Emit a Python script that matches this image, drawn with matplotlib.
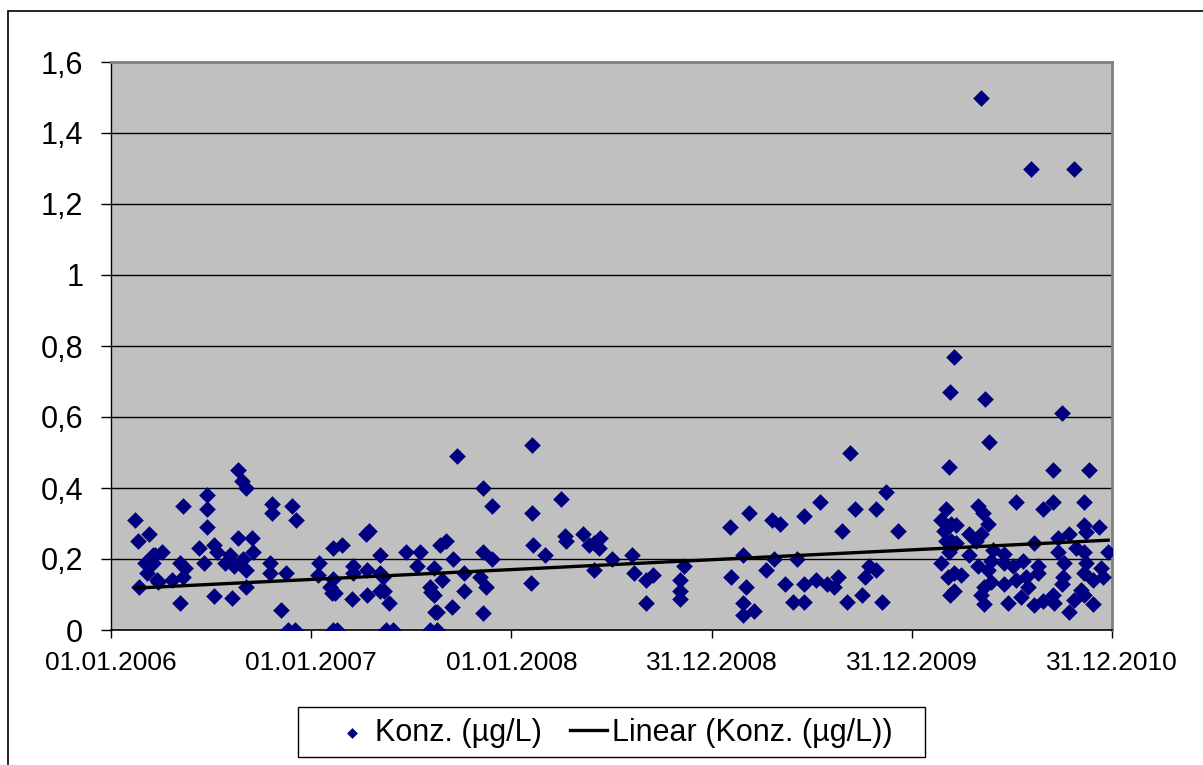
import numpy as np
import matplotlib
matplotlib.use("Agg")
from matplotlib import pyplot as plt, rcParams
from matplotlib.patches import Rectangle
from matplotlib.ticker import FuncFormatter

rcParams["font.family"] = ["Liberation Sans", "DejaVu Sans"]

# days since 01.01.2006 and concentration (µg/L)
days_2006 = [44, 49, 69, 62, 77, 80, 93, 76, 66, 84, 86, 51, 111, 131, 126, 135, 131, 126,
             175, 175, 175, 161, 170, 188, 193, 188, 208, 217, 224, 221, 232, 239, 246, 232,
             257, 259, 241, 246, 246, 294, 294, 330, 338, 290, 290, 319, 310, 323, 336]
conc_2006 = [0.31, 0.25, 0.27, 0.19, 0.21, 0.21, 0.22, 0.19, 0.16, 0.14, 0.135, 0.12, 0.14, 0.35,
             0.19, 0.175, 0.15, 0.076, 0.38, 0.34, 0.29, 0.23, 0.19, 0.24, 0.22, 0.096, 0.19, 0.21,
             0.18, 0.09, 0.45, 0.42, 0.40, 0.26, 0.26, 0.22, 0.20, 0.17, 0.12, 0.355, 0.33, 0.35,
             0.31, 0.19, 0.16, 0.16, 0.056, 0.0, 0.0]

days_2007 = [380, 378, 405, 400, 403, 409, 405, 412, 405, 422, 442, 442, 440, 464, 471, 467, 467,
             491, 491, 496, 491, 498, 506, 502, 515, 538, 564, 557, 600, 611, 588, 604, 582, 584,
             589, 591, 595, 582, 595, 624, 622, 631, 644, 644, 679, 694, 679, 694, 673, 683, 679]
conc_2007 = [0.19, 0.155, 0.145, 0.12, 0.105, 0.105, 0.0, 0.0, 0.23, 0.24, 0.18, 0.16, 0.088,
             0.27, 0.28, 0.17, 0.10, 0.21, 0.16, 0.15, 0.11, 0.11, 0.076, 0.0, 0.0, 0.22, 0.22,
             0.18, 0.24, 0.25, 0.175, 0.14, 0.12, 0.107, 0.10, 0.05, 0.05, 0.0, 0.0, 0.20, 0.065,
             0.49, 0.16, 0.11, 0.40, 0.35, 0.22, 0.20, 0.15, 0.12, 0.048]

days_2008 = [767, 767, 770, 792, 765, 821, 827, 830, 861, 871, 880, 891, 889, 880, 914, 949,
             953, 975, 989, 975, 1044, 1038, 1038, 1037]
conc_2008 = [0.52, 0.33, 0.24, 0.21, 0.133, 0.37, 0.265, 0.25, 0.27, 0.24, 0.245, 0.26, 0.23,
             0.17, 0.20, 0.21, 0.16, 0.14, 0.155, 0.076, 0.18, 0.14, 0.11, 0.087]

days_2009 = [1128, 1130, 1153, 1157, 1152, 1152, 1172, 1164, 1195, 1206, 1219, 1208, 1228, 1243,
             1250, 1263, 1263, 1263, 1285, 1292, 1305, 1319, 1325, 1332, 1341, 1347, 1356, 1369,
             1374, 1382, 1394, 1394, 1405, 1413, 1434]
conc_2009 = [0.29, 0.15, 0.21, 0.12, 0.076, 0.043, 0.054, 0.33, 0.17, 0.31, 0.30, 0.20, 0.13,
             0.08, 0.20, 0.32, 0.08, 0.13, 0.14, 0.36, 0.13, 0.12, 0.15, 0.28, 0.08, 0.50, 0.34,
             0.10, 0.15, 0.18, 0.17, 0.34, 0.08, 0.39, 0.28]

days_2010 = [1537, 1529, 1593, 1601, 1528, 1734, 1717, 1783, 1586, 1677, 1756, 1522, 1513, 1518,
             1531, 1540, 1522, 1531, 1540, 1528, 1513, 1526, 1537, 1549, 1529, 1537, 1564, 1580,
             1590, 1599, 1586, 1577, 1564, 1580, 1599, 1604, 1608, 1604, 1591, 1586, 1591, 1650,
             1628, 1628, 1644, 1663, 1628, 1650, 1668, 1672, 1635, 1659, 1683, 1699, 1690, 1690,
             1683, 1699, 1717, 1726, 1726, 1737, 1736, 1734, 1717, 1719, 1747, 1747, 1759, 1756,
             1774, 1774, 1778, 1774, 1778, 1774, 1768, 1774, 1790, 1790, 1801, 1805, 1809, 1818]
conc_2010 = [0.77, 0.67, 0.65, 0.53, 0.46, 0.61, 0.45, 0.45, 1.50, 1.30, 1.30, 0.34, 0.31, 0.28,
             0.30, 0.295, 0.25, 0.25, 0.245, 0.22, 0.19, 0.15, 0.16, 0.155, 0.10, 0.11, 0.27, 0.35,
             0.33, 0.30, 0.27, 0.25, 0.21, 0.18, 0.17, 0.195, 0.225, 0.135, 0.12, 0.10, 0.073, 0.36,
             0.215, 0.19, 0.18, 0.195, 0.13, 0.14, 0.15, 0.12, 0.076, 0.093, 0.245, 0.34, 0.18,
             0.16, 0.07, 0.082, 0.36, 0.26, 0.22, 0.19, 0.15, 0.13, 0.10, 0.075, 0.05, 0.27, 0.23,
             0.085, 0.36, 0.295, 0.275, 0.22, 0.19, 0.16, 0.113, 0.10, 0.14, 0.073, 0.29, 0.175,
             0.15, 0.22]

# Excel linear trendline, values read at first and last sample date
trend_days = [44, 1818]
trend_vals = [0.118, 0.253]

tick_days = [0, 365, 730, 1095, 1460, 1825]
tick_labels = ["01.01.2006", "01.01.2007", "01.01.2008", "31.12.2008", "31.12.2009", "31.12.2010"]

x = np.array(days_2006 + days_2007 + days_2008 + days_2009 + days_2010, dtype=float)
y = np.array(conc_2006 + conc_2007 + conc_2008 + conc_2009 + conc_2010)

W, H = 1203, 765
fig = plt.figure(figsize=(W / 100, H / 100), dpi=100)
ax = fig.add_axes([111 / W, 1 - 630 / H, 1001 / W, 568 / H])
ax.set_facecolor("#C0C0C0")

# outer chart area frame (cut off at the right and bottom)
fig.patches.append(Rectangle((8 / W, -0.2), 1.5, 1.2 - 11 / H, transform=fig.transFigure,
                             fill=False, edgecolor="black", linewidth=1.2))
# legend box
fig.patches.append(Rectangle((298 / W, 1 - 757 / H), 627 / W, 50 / H, transform=fig.transFigure,
                             facecolor="white", edgecolor="black", linewidth=1.0))

for v in np.arange(0.2, 1.5, 0.2):
    ax.axhline(v, color="black", linewidth=1.0, zorder=1)

ax.scatter(x, y, marker="D", s=72, color="#000080", linewidths=0, zorder=3,
           label="Konz. (µg/L)")
ax.plot(trend_days, trend_vals, color="black", linewidth=2.4, zorder=4,
        label="Linear (Konz. (µg/L))")

ax.set_xlim(0, 1825)
ax.set_ylim(0, 1.6)
ax.set_xticks(tick_days)
ax.set_xticklabels(tick_labels)
ax.set_yticks(np.arange(0, 1.61, 0.2))
ax.yaxis.set_major_formatter(FuncFormatter(lambda v, p: f"{round(v, 1):g}".replace(".", ",")))
ax.tick_params(axis="y", labelsize=22, length=7, width=1, pad=13, direction="out")
ax.tick_params(axis="x", labelsize=19, length=6, width=1, pad=9, direction="out")

for s in ax.spines.values():
    s.set_color("#808080")
    s.set_linewidth(2)
ax.spines["left"].set_color("black")
ax.spines["left"].set_linewidth(1)
ax.spines["bottom"].set_color("black")
ax.spines["bottom"].set_linewidth(1.2)

fs = 22
px = fs * 100 / 72
leg = fig.legend(loc="center left", bbox_to_anchor=(333 / W, 1 - 733 / H), ncol=2,
                 fontsize=fs, frameon=False, borderpad=0, borderaxespad=0,
                 handlelength=37 / px, columnspacing=28 / px, handletextpad=5 / px,
                 scatterpoints=1, markerscale=0.65)

fig.savefig("out.png", dpi=100)
